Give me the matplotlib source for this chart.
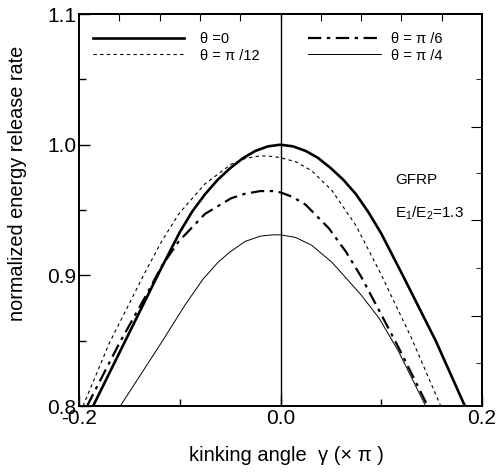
"""Normalized energy release rate vs kinking angle, GFRP E1/E2=1.3."""
import matplotlib
matplotlib.use("Agg")
import matplotlib.pyplot as plt

plt.rcParams["font.family"] = ["Liberation Sans", "DejaVu Sans"]
plt.rcParams["mathtext.fontset"] = "custom"
plt.rcParams["mathtext.rm"] = "Liberation Sans"
plt.rcParams["mathtext.it"] = "Liberation Sans"

# ---- data ----
x_t0 = [-0.186, -0.154, -0.120, -0.100, -0.0875, -0.075, -0.0625, -0.050, -0.037, -0.025,
        -0.0125, 0.0, 0.0125, 0.025, 0.037, 0.050, 0.0625, 0.075, 0.0875, 0.100, 0.110,
        0.122, 0.154, 0.183]
y_t0 = [0.800, 0.850, 0.903, 0.933, 0.949, 0.962, 0.973, 0.982, 0.9898, 0.9952,
        0.9987, 1.000, 0.9987, 0.9952, 0.990, 0.982, 0.973, 0.962, 0.948, 0.932, 0.917,
        0.899, 0.850, 0.800]

x_t12 = [-0.196, -0.170, -0.136, -0.118, -0.101, -0.075, -0.049, -0.035, -0.020, -0.008,
         0.0, 0.015, 0.031, 0.051, 0.075, 0.099, 0.130, 0.159]
y_t12 = [0.800, 0.848, 0.900, 0.926, 0.947, 0.970, 0.985, 0.9895, 0.9915, 0.991,
         0.990, 0.987, 0.980, 0.965, 0.938, 0.902, 0.852, 0.800]

x_t6 = [-0.192, -0.160, -0.131, -0.118, -0.101, -0.075, -0.049, -0.035, -0.020, -0.008,
        0.0, 0.012, 0.025, 0.048, 0.065, 0.080, 0.100, 0.119, 0.146]
y_t6 = [0.800, 0.848, 0.888, 0.907, 0.926, 0.947, 0.959, 0.9625, 0.9645, 0.9645,
        0.9635, 0.960, 0.954, 0.936, 0.918, 0.899, 0.870, 0.842, 0.800]

x_t4 = [-0.159, -0.117, -0.095, -0.077, -0.062, -0.050, -0.035, -0.020, -0.008, 0.0,
        0.015, 0.031, 0.051, 0.065, 0.080, 0.098, 0.117, 0.144]
y_t4 = [0.800, 0.850, 0.877, 0.897, 0.910, 0.918, 0.926, 0.930, 0.931, 0.931,
        0.929, 0.923, 0.910, 0.898, 0.885, 0.867, 0.842, 0.800]

xticks = [-0.2, 0.0, 0.2]
xticklabels = ["-0.2", "0.0", "0.2"]
yticks = [0.8, 0.9, 1.0, 1.1]
yticklabels = ["0.8", "0.9", "1.0", "1.1"]
top_ticks = [-0.16, -0.12, -0.08, -0.04, 0.0, 0.04, 0.08, 0.12, 0.16]
right_major = [1.0138, 0.942, 0.869]
right_minor = [1.050, 0.978, 0.906, 0.833]

fig = plt.figure(figsize=(5.01, 4.72), dpi=100)
ax = fig.add_axes([0.1577, 0.1398, 0.8044, 0.8305])

ax.axvline(0, color="k", lw=1.0)
l0, = ax.plot(x_t0, y_t0, color="k", lw=1.9, label="θ =0")
l12, = ax.plot(x_t12, y_t12, color="k", lw=0.8, dashes=(3, 3), label="θ = π /12")
l6, = ax.plot(x_t6, y_t6, color="k", lw=1.6, dashes=(6, 2.5, 1.5, 2.5), label="θ = π /6")
l4, = ax.plot(x_t4, y_t4, color="k", lw=0.7, label="θ = π /4")

ax.set_xlim(-0.2, 0.2)
ax.set_ylim(0.8, 1.1)
ax.set_xticks(xticks)
ax.set_xticklabels(xticklabels)
ax.set_xticks([-0.1, 0.1], minor=True)
ax.set_yticks(yticks)
ax.set_yticklabels(yticklabels)
ax.set_yticks([0.85, 0.95, 1.05], minor=True)
ax.tick_params(which="both", direction="in", labelsize=15, pad=2, width=1.0)
ax.tick_params(which="major", length=8)
ax.tick_params(which="minor", length=5)
for s in ax.spines.values():
    s.set_linewidth(1.4)

top = ax.secondary_xaxis("top")
top.set_xticks(top_ticks)
top.tick_params(direction="in", length=5, labeltop=False)
top.spines["top"].set_linewidth(1.4)
right = ax.secondary_yaxis("right")
right.set_yticks(right_major)
right.set_yticks(right_minor, minor=True)
right.tick_params(which="major", direction="in", length=8, labelright=False)
right.tick_params(which="minor", direction="in", length=4, labelright=False)
right.spines["right"].set_linewidth(1.4)

ax.set_xlabel("kinking angle  γ (× π )", fontsize=14.5)
ax.xaxis.set_label_coords(0.514, -0.102)
ax.set_ylabel("normalized energy release rate", fontsize=14.3)
ax.yaxis.set_label_coords(-0.129, 0.569)

leg1 = ax.legend(handles=[l0, l12], loc="upper left", bbox_to_anchor=(0.035, 0.955),
                 frameon=False, fontsize=10.5, handlelength=6.2, handletextpad=1.1,
                 labelspacing=0.2, borderpad=0, borderaxespad=0)
ax.add_artist(leg1)
ax.legend(handles=[l6, l4], loc="upper left", bbox_to_anchor=(0.568, 0.955),
          frameon=False, fontsize=10.5, handlelength=5.0, handletextpad=0.7,
          labelspacing=0.2, borderpad=0, borderaxespad=0)

ax.text(0.784, 0.577, "GFRP", transform=ax.transAxes, fontsize=11, va="center")
ax.text(0.784, 0.492, r"E$_1$/E$_2$=1.3", transform=ax.transAxes, fontsize=11, va="center")

fig.savefig("out.png", dpi=100)
